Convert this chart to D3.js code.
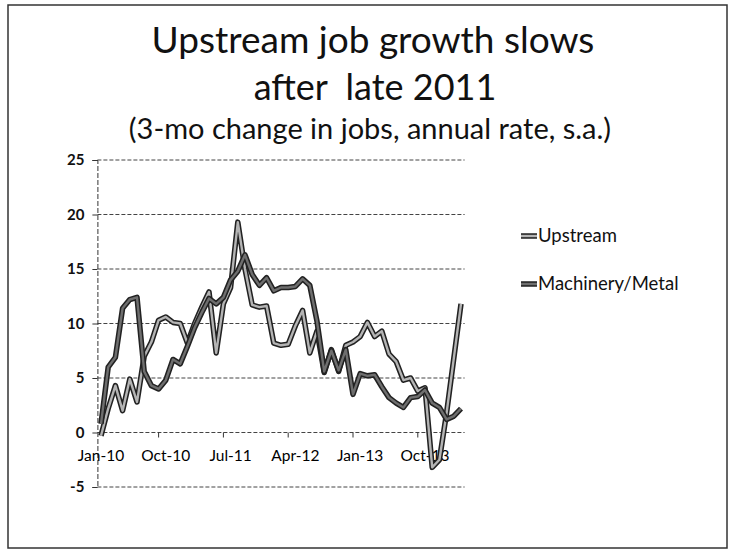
<!DOCTYPE html>
<html><head><meta charset="utf-8">
<script src="https://cdn.jsdelivr.net/npm/d3@7"></script>
<style>body{margin:0;background:#fff}</style>
</head><body><svg id="c" width="731" height="552"></svg>
<script>
const months = ["Jan-10","Feb-10","Mar-10","Apr-10","May-10","Jun-10","Jul-10","Aug-10","Sep-10","Oct-10","Nov-10","Dec-10",
"Jan-11","Feb-11","Mar-11","Apr-11","May-11","Jun-11","Jul-11","Aug-11","Sep-11","Oct-11","Nov-11","Dec-11",
"Jan-12","Feb-12","Mar-12","Apr-12","May-12","Jun-12","Jul-12","Aug-12","Sep-12","Oct-12","Nov-12","Dec-12",
"Jan-13","Feb-13","Mar-13","Apr-13","May-13","Jun-13","Jul-13","Aug-13","Sep-13","Oct-13","Nov-13","Dec-13",
"Jan-14","Feb-14","Mar-14"];
const upstream = [-0.3,2.2,4.3,2.0,4.9,2.8,7.0,8.3,10.3,10.6,
10.1,10.0,8.2,10.0,11.5,12.9,7.3,11.8,13.3,19.3,
15.0,11.7,11.5,11.6,8.2,8.0,8.1,9.8,11.2,7.3,
9.3,5.5,7.6,5.6,8.0,8.3,8.8,10.1,8.8,9.3,
7.2,6.5,4.8,5.0,3.8,4.1,-3.2,-2.5,1.8,6.8,11.8];
const machinery = [0.8,6.0,6.9,11.4,12.2,12.4,5.6,4.3,4.0,4.8,
6.7,6.3,7.9,9.6,11.0,12.3,11.8,12.4,14.0,14.8,
16.3,14.5,13.5,14.2,13.0,13.3,13.3,13.4,14.1,13.5,
10.2,5.6,7.5,5.7,7.6,3.5,5.4,5.2,5.3,4.2,
3.2,2.7,2.3,3.2,3.3,3.9,2.7,2.3,1.2,1.5,2.2];
const tickLabels = ["Jan-10","Oct-10","Jul-11","Apr-12","Jan-13","Oct-13"];
const yTicks = [-5,0,5,10,15,20,25];
const seriesNames = ["Upstream","Machinery/Metal"];

const font = "Lato, 'Open Sans', sans-serif";
const svg = d3.select("#c");
svg.append("rect").attr("x",8).attr("y",5).attr("width",719).attr("height",543)
  .attr("fill","#fff").attr("stroke","#333").attr("stroke-width",1.5);

svg.append("text").attr("x",373).attr("y",53).attr("text-anchor","middle")
  .attr("font-family",font).attr("font-size",37).attr("fill","#111").text("Upstream job growth slows");
svg.append("text").attr("x",375).attr("y",100).attr("text-anchor","middle").style("white-space","pre")
  .attr("font-family",font).attr("font-size",36).attr("fill","#111").text("after  late 2011");
svg.append("text").attr("x",370).attr("y",139).attr("text-anchor","middle")
  .attr("font-family",font).attr("font-size",29).attr("fill","#111").text("(3-mo change in jobs, annual rate, s.a.)");

const x = d3.scaleBand().domain(months).range([97.4,464.6]).padding(0);
const y = d3.scaleLinear().domain([-5,25]).range([487,160]);
const cx = m => x(m) + x.bandwidth()/2;

svg.append("g").selectAll("line").data(yTicks).join("line")
  .attr("x1",97.4).attr("x2",464.6).attr("y1",d=>y(d)).attr("y2",d=>y(d))
  .attr("stroke","#444").attr("stroke-width",1).attr("stroke-dasharray","4,2");

const yAxis = d3.axisLeft(y).tickValues(yTicks).tickSize(5).tickPadding(8).tickFormat(d => String(d));
const gy = svg.append("g").attr("transform","translate(97.4,0)").call(yAxis);
gy.select(".domain").attr("stroke","#333").attr("stroke-dasharray","5,2");
gy.selectAll(".tick line").attr("stroke","#333");
gy.selectAll(".tick text").attr("font-family",font).attr("font-size",15).attr("font-weight","bold").attr("fill","#111");

const boundaries = tickLabels.slice(1).map(t => x(t));
svg.append("g").selectAll("line").data(boundaries).join("line")
  .attr("x1",d=>d-3.6).attr("x2",d=>d-3.6).attr("y1",y(0)).attr("y2",y(0)+5)
  .attr("stroke","#333");
svg.append("g").selectAll("text").data(tickLabels).join("text")
  .attr("x",d=>cx(d)).attr("y",y(0)+28).attr("text-anchor","middle")
  .attr("font-family",font).attr("font-size",15.5).attr("fill","#000").text(d=>d);

const line = d3.line().x((d,i)=>cx(months[i])).y(d=>y(d));
const series = [
  {name: seriesNames[0], vals: upstream, inner: "#b4b4b4"},
  {name: seriesNames[1], vals: machinery, inner: "#6e6e6e"}
];
series.forEach(s => {
  svg.append("path").attr("d", line(s.vals)).attr("fill","none")
    .attr("stroke","#222").attr("stroke-width",5.5).attr("stroke-linejoin","round");
  svg.append("path").attr("d", line(s.vals)).attr("fill","none")
    .attr("stroke",s.inner).attr("stroke-width",2.4).attr("stroke-linejoin","round");
});

const ly = [236, 284];
series.forEach((s,i) => {
  svg.append("line").attr("x1",521).attr("x2",537).attr("y1",ly[i]).attr("y2",ly[i])
    .attr("stroke","#222").attr("stroke-width",5.5);
  svg.append("line").attr("x1",521).attr("x2",537).attr("y1",ly[i]).attr("y2",ly[i])
    .attr("stroke",s.inner).attr("stroke-width",2.4);
  svg.append("text").attr("x",538).attr("y",ly[i]+6).attr("font-family",font)
    .attr("font-size",18.5).attr("fill","#111").text(s.name);
});
</script></body></html>
